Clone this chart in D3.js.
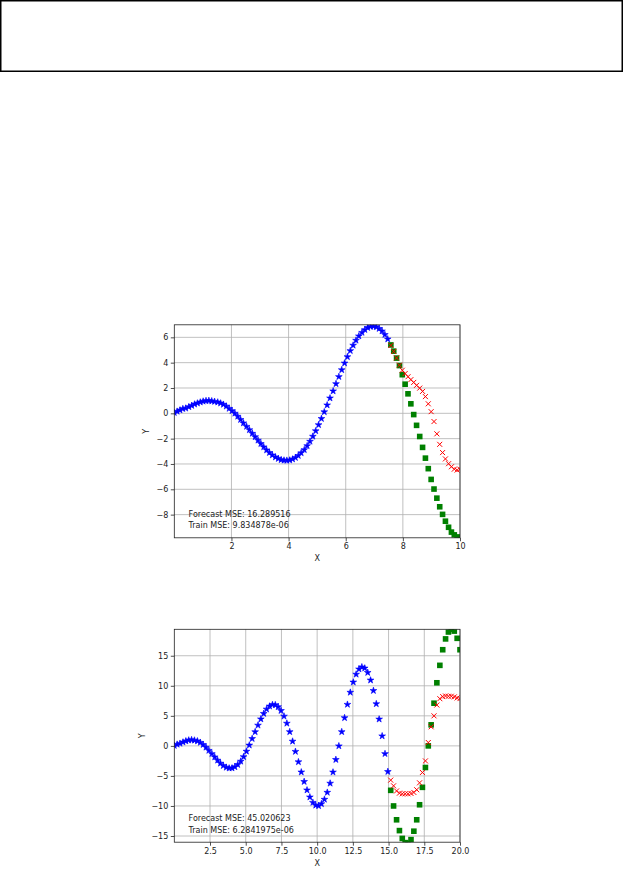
<!DOCTYPE html>
<html>
<head>
<meta charset="utf-8">
<script src="https://cdn.jsdelivr.net/npm/d3@7"></script>
<style>
  html, body { margin: 0; padding: 0; background: #fff; }
  svg { display: block; font-family: "DejaVu Sans", sans-serif; }
</style>
</head>
<body>
<svg id="fig" width="624" height="872"></svg>
<script>
// ---------------- Chart 1 data ----------------
const train1X = [0.00,0.10,0.20,0.30,0.40,0.51,0.61,0.71,0.81,0.91,1.01,1.11,1.21,1.31,1.41,1.52,1.62,1.72,1.82,1.92,2.02,2.12,2.22,2.32,2.42,2.53,2.63,2.73,2.83,2.93,3.03,3.13,3.23,3.33,3.43,3.54,3.64,3.74,3.84,3.94,4.04,4.14,4.24,4.34,4.44,4.55,4.65,4.75,4.85,4.95,5.05,5.15,5.25,5.35,5.45,5.56,5.66,5.76,5.86,5.96,6.06,6.16,6.26,6.36,6.46,6.57,6.67,6.77,6.87,6.97,7.07,7.17,7.27,7.37,7.47];
const train1Y = [0.05,0.15,0.25,0.36,0.40,0.51,0.61,0.72,0.80,0.88,0.95,0.99,1.00,0.97,0.93,0.88,0.80,0.70,0.56,0.38,0.20,0.00,-0.24,-0.50,-0.77,-1.04,-1.31,-1.59,-1.86,-2.13,-2.40,-2.66,-2.90,-3.11,-3.30,-3.46,-3.58,-3.67,-3.71,-3.72,-3.70,-3.62,-3.50,-3.34,-3.13,-2.88,-2.57,-2.22,-1.82,-1.39,-0.91,-0.42,0.11,0.65,1.20,1.76,2.33,2.89,3.43,3.96,4.46,4.94,5.37,5.76,6.10,6.38,6.60,6.76,6.85,6.87,6.82,6.69,6.49,6.21,5.86];
const test1X = [7.58,7.68,7.78,7.88,7.98,8.08,8.18,8.28,8.38,8.48,8.59,8.69,8.79,8.89,8.99,9.09,9.19,9.29,9.39,9.49,9.60,9.70,9.80,9.90,10.00];
const actual1Y = [5.40,4.91,4.36,3.77,3.05,2.30,1.54,0.75,-0.10,-0.95,-1.83,-2.69,-3.54,-4.37,-5.22,-5.98,-6.70,-7.38,-7.98,-8.52,-9.00,-9.38,-9.60,-9.76,-9.86];
const forecast1Y = [5.36,4.88,4.37,3.80,3.40,3.14,2.89,2.66,2.44,2.21,1.99,1.73,1.32,0.75,0.13,-0.65,-1.62,-2.45,-3.10,-3.60,-3.98,-4.22,-4.41,-4.48,-4.42];
const xTicks1 = [2,4,6,8,10];
const yTicks1 = [-8,-6,-4,-2,0,2,4,6];
const xDomain1 = [0, 10];
const yDomain1 = [-9.83, 6.99];
const notes1 = ["Forecast MSE: 16.289516", "Train MSE: 9.834878e-06"];

// ---------------- Chart 2 data ----------------
const train2X = [0.00,0.20,0.40,0.61,0.81,1.01,1.21,1.41,1.62,1.82,2.02,2.22,2.42,2.63,2.83,3.03,3.23,3.43,3.64,3.84,4.04,4.24,4.44,4.65,4.85,5.05,5.25,5.45,5.66,5.86,6.06,6.26,6.46,6.67,6.87,7.07,7.27,7.47,7.68,7.88,8.08,8.28,8.48,8.69,8.89,9.09,9.29,9.49,9.70,9.90,10.10,10.30,10.51,10.71,10.91,11.11,11.31,11.52,11.72,11.92,12.12,12.32,12.53,12.73,12.93,13.13,13.33,13.54,13.74,13.94,14.14,14.34,14.55,14.75,14.95];
const train2Y = [0.05,0.25,0.40,0.61,0.80,0.95,1.00,0.93,0.80,0.56,0.20,-0.24,-0.77,-1.31,-1.86,-2.40,-2.90,-3.30,-3.58,-3.71,-3.70,-3.50,-3.13,-2.57,-1.82,-0.91,0.11,1.20,2.33,3.43,4.46,5.37,6.10,6.60,6.85,6.82,6.49,5.86,4.93,3.75,2.34,0.76,-0.94,-2.67,-4.37,-5.95,-7.36,-8.53,-9.42,-9.89,-9.98,-9.65,-8.91,-7.75,-6.23,-4.38,-2.29,-0.02,2.34,4.67,6.89,8.90,10.60,11.91,12.77,13.12,12.93,12.20,10.93,9.19,6.99,4.44,1.64,-1.31,-4.29];
const test2X = [15.15,15.35,15.56,15.76,15.96,16.16,16.36,16.57,16.77,16.97,17.17,17.37,17.58,17.78,17.98,18.18,18.38,18.59,18.79,18.99,19.19,19.39,19.60,19.80,20.00];
const actual2Y = [-7.4,-10.0,-12.3,-14.1,-15.4,-16.1,-16.2,-15.6,-14.2,-12.3,-9.8,-6.9,-3.6,0.0,3.5,7.1,10.5,13.4,16.0,17.8,18.95,19.4,19.1,17.9,16.0];
const forecast2Y = [-5.7,-6.65,-7.5,-7.87,-7.98,-7.98,-7.98,-7.92,-7.75,-7.3,-6.15,-4.43,-2.5,0.56,3.17,5.0,6.8,7.85,8.2,8.3,8.26,8.26,8.15,7.98,7.87];
const xTicks2 = [2.5,5.0,7.5,10.0,12.5,15.0,17.5,20.0];
const yTicks2 = [-15,-10,-5,0,5,10,15];
const xDomain2 = [0, 20];
const yDomain2 = [-16.03, 19.4];
const notes2 = ["Forecast MSE: 45.020623", "Train MSE: 6.2841975e-06"];

const svg = d3.select("#fig");

// top empty box
svg.append("rect").attr("x", 0.75).attr("y", 0.75).attr("width", 621.5).attr("height", 70.5)
  .attr("fill", "none").attr("stroke", "#000").attr("stroke-width", 1.5);

function drawChart(cfg) {
  const { id, left, right, top, bottom, xDomain, yDomain, xTicks, yTicks, xFmt,
          trainX, trainY, testX, actualY, forecastY, notes } = cfg;
  const x = d3.scaleLinear().domain(xDomain).range([left, right]);
  const y = d3.scaleLinear().domain(yDomain).range([bottom, top]);
  const g = svg.append("g");

  svg.append("clipPath").attr("id", "clip" + id)
    .append("rect").attr("x", left).attr("y", top).attr("width", right - left).attr("height", bottom - top);

  // grid
  const grid = g.append("g").attr("stroke", "#b0b0b0").attr("stroke-width", 0.8);
  grid.selectAll("line.gx").data(xTicks).join("line")
    .attr("x1", d => x(d)).attr("x2", d => x(d)).attr("y1", top).attr("y2", bottom);
  grid.selectAll("line.gy").data(yTicks).join("line")
    .attr("y1", d => y(d)).attr("y2", d => y(d)).attr("x1", left).attr("x2", right);

  const plot = g.append("g").attr("clip-path", `url(#clip${id})`);

  // train: blue stars
  const star = d3.symbol().type(d3.symbolStar).size(14);
  plot.append("g").selectAll("path").data(d3.zip(trainX, trainY)).join("path")
    .attr("d", star)
    .attr("transform", d => `translate(${x(d[0])},${y(d[1])})`)
    .attr("fill", "#0000ff").attr("stroke", "#0000ff").attr("stroke-width", 0.6);

  // actual: green squares
  const sq = 5.6;
  plot.append("g").selectAll("rect").data(d3.zip(testX, actualY)).join("rect")
    .attr("x", d => x(d[0]) - sq / 2).attr("y", d => y(d[1]) - sq / 2)
    .attr("width", sq).attr("height", sq).attr("fill", "#008000");

  // forecast: red x
  const h = 2.5;
  plot.append("g").selectAll("path").data(d3.zip(testX, forecastY)).join("path")
    .attr("d", d => {
      const cx = x(d[0]), cy = y(d[1]);
      return `M${cx - h},${cy - h}L${cx + h},${cy + h}M${cx - h},${cy + h}L${cx + h},${cy - h}`;
    })
    .attr("fill", "none").attr("stroke", "#ff0000").attr("stroke-width", 1);

  // axes
  const xAxis = d3.axisBottom(x).tickValues(xTicks).tickFormat(d3.format(xFmt)).tickSize(3.5).tickPadding(2.5);
  const yAxis = d3.axisLeft(y).tickValues(yTicks).tickFormat(d3.format("d")).tickSize(3.5).tickPadding(2.5);
  const gx = g.append("g").attr("transform", `translate(0,${bottom})`).call(xAxis);
  const gy = g.append("g").attr("transform", `translate(${left},0)`).call(yAxis);
  [gx, gy].forEach(a => {
    a.select(".domain").remove();
    a.selectAll(".tick line").attr("stroke", "#222").attr("stroke-width", 0.8);
    a.selectAll(".tick text").attr("font-size", 8).attr("fill", "#222")
      .attr("font-family", "DejaVu Sans, sans-serif");
  });

  // frame
  g.append("rect").attr("x", left).attr("y", top).attr("width", right - left).attr("height", bottom - top)
    .attr("fill", "none").attr("stroke", "#222").attr("stroke-width", 0.8);

  // labels
  g.append("text").attr("x", (left + right) / 2).attr("y", bottom + 23.5)
    .attr("text-anchor", "middle").attr("font-size", 8).attr("fill", "#222").text("X");
  g.append("text").attr("transform", `translate(${cfg.ylabX},${(top + bottom) / 2}) rotate(-90)`)
    .attr("text-anchor", "middle").attr("font-size", 8).attr("fill", "#222").text("Y");

  // notes
  notes.forEach((t, i) => {
    g.append("text").attr("x", left + 14.3).attr("y", bottom - 21.2 + i * 11.5)
      .attr("font-size", 8).attr("fill", "#222").text(t);
  });
}

drawChart({ id: 1, left: 174.3, right: 460, top: 324.8, bottom: 537.8,
  xDomain: xDomain1, yDomain: yDomain1, xTicks: xTicks1, yTicks: yTicks1, xFmt: "d",
  trainX: train1X, trainY: train1Y, testX: test1X, actualY: actual1Y, forecastY: forecast1Y,
  notes: notes1, ylabX: 149 });

drawChart({ id: 2, left: 174.3, right: 460, top: 629.3, bottom: 842.2,
  xDomain: xDomain2, yDomain: yDomain2, xTicks: xTicks2, yTicks: yTicks2, xFmt: ".1f",
  trainX: train2X, trainY: train2Y, testX: test2X, actualY: actual2Y, forecastY: forecast2Y,
  notes: notes2, ylabX: 144.5 });
</script>
</body>
</html>
